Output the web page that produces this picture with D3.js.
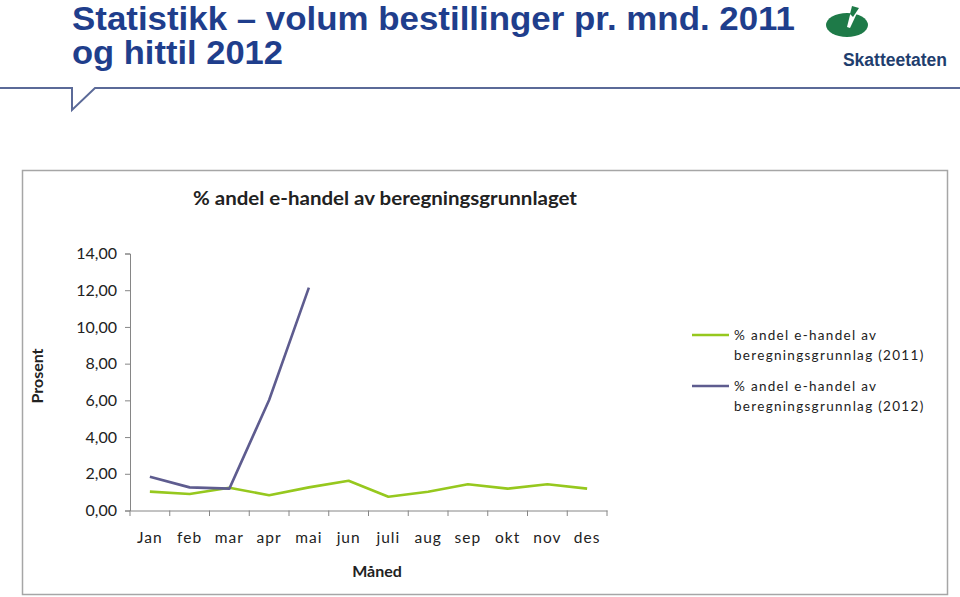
<!DOCTYPE html>
<html><head><meta charset="utf-8">
<script src="https://cdn.jsdelivr.net/npm/d3@7"></script>
<style>body{margin:0;background:#fff}svg{display:block}</style>
</head><body>
<svg id="c" width="960" height="597"></svg>
<script>
const months = ["Jan","feb","mar","apr","mai","jun","juli","aug","sep","okt","nov","des"];
const values2011 = [1.03,0.90,1.24,0.83,1.26,1.62,0.75,1.02,1.43,1.19,1.43,1.19];
const values2012 = [1.84,1.26,1.19,6.02,12.14];
const yTicks = [0,2,4,6,8,10,12,14];
const seriesNames = ["% andel e-handel av beregningsgrunnlag (2011)","% andel e-handel av beregningsgrunnlag (2012)"];
const seriesColors = ["#96c81e","#5e5c8f"];

const svg = d3.select("#c");
// Header
const titleFont = "'Liberation Sans',Arial,sans-serif";
svg.append("text").attr("x",72).attr("y",30).attr("font-family",titleFont).attr("font-weight","bold")
  .attr("font-size",33).attr("fill","#1f3e8c").attr("textLength",723).attr("lengthAdjust","spacingAndGlyphs")
  .text("Statistikk – volum bestillinger pr. mnd. 2011");
svg.append("text").attr("x",72).attr("y",64).attr("font-family",titleFont).attr("font-weight","bold")
  .attr("font-size",33).attr("fill","#1f3e8c").attr("textLength",211).attr("lengthAdjust","spacingAndGlyphs")
  .text("og hittil 2012");
svg.append("path").attr("d","M0,88H72V110L95,88H960").attr("fill","none").attr("stroke","#5b6a98").attr("stroke-width",2);
// Logo
svg.append("ellipse").attr("cx",847).attr("cy",25).attr("rx",21).attr("ry",12).attr("fill","#1e7a48");
svg.append("path").attr("d","M851,11 L858,11 L850,28 L847,27 Z").attr("fill","#fff");
svg.append("path").attr("d","M852,6 L859,8 L853,17 L850,14 Z").attr("fill","#1e7a48");
svg.append("text").attr("x",947).attr("y",66).attr("text-anchor","end").attr("font-family","'Liberation Sans Narrow','Liberation Sans',sans-serif").attr("font-weight","bold")
  .attr("font-size",17.5).attr("fill","#1f3e6e").text("Skatteetaten");

// Chart frame
svg.append("rect").attr("x",22.5).attr("y",170.5).attr("width",925).attr("height",424).attr("fill","#fff").attr("stroke","#a6a6a6").attr("stroke-width",1.5);

const font = "Lato,'Open Sans',sans-serif";
svg.append("text").attr("x",385).attr("y",205).attr("text-anchor","middle").attr("font-family",font).attr("font-weight","bold")
  .attr("font-size",19.5).attr("fill","#222").attr("textLength",384).attr("lengthAdjust","spacingAndGlyphs")
  .text("% andel e-handel av beregningsgrunnlaget");

const x = d3.scaleBand().domain(months).range([130,607]);
const y = d3.scaleLinear().domain([0,14]).range([510.5,253.5]);

const yAxis = d3.axisLeft(y).tickValues(yTicks).tickSize(5).tickFormat(d=>d3.format(".2f")(d).replace(".",","));
const gy = svg.append("g").attr("transform","translate(130,0)").call(yAxis);
gy.selectAll("path,line").attr("stroke","#868686");
gy.selectAll("text").attr("font-family",font).attr("font-size",16).attr("fill","#222").attr("x",-13);

const gx = svg.append("g").attr("transform","translate(0,510.5)").call(d3.axisBottom(x).tickSize(0).tickPadding(0).tickSizeOuter(0));
gx.select("path").attr("stroke","#868686");
gx.selectAll("text").attr("font-family",font).attr("font-size",15.5).attr("fill","#222").attr("dy",0).attr("y",32).attr("letter-spacing",1);
// category boundary ticks
const bounds = months.map(m=>x(m)).concat([x.range()[1]]);
svg.append("g").selectAll("line").data(bounds).join("line")
  .attr("x1",d=>d).attr("x2",d=>d).attr("y1",510.5).attr("y2",516).attr("stroke","#868686");

svg.append("text").attr("transform","translate(43,376) rotate(-90)").attr("text-anchor","middle").attr("font-family",font)
  .attr("font-weight","bold").attr("font-size",16).attr("fill","#222").text("Prosent");
svg.append("text").attr("x",377).attr("y",577).attr("text-anchor","middle").attr("font-family",font)
  .attr("font-weight","bold").attr("font-size",16).attr("fill","#222").text("Måned");

const line = d3.line().x((d,i)=>x(months[i])+x.bandwidth()/2).y(d=>y(d));
[values2011, values2012].forEach((vals,i)=>{
  svg.append("path").datum(vals).attr("d",line).attr("fill","none").attr("stroke",seriesColors[i])
    .attr("stroke-width",2.6).attr("stroke-linejoin","round");
});

// Legend
seriesNames.forEach((name,i)=>{
  const yy = 335 + i*51;
  svg.append("line").attr("x1",692).attr("x2",729).attr("y1",yy).attr("y2",yy).attr("stroke",seriesColors[i]).attr("stroke-width",2.6);
  const parts = [name.slice(0,19), name.slice(20)];
  parts.forEach((p,j)=>{
    svg.append("text").attr("x",734).attr("y",yy+5+j*20).attr("font-family",font).attr("font-size",13.5)
      .attr("letter-spacing",1.3).attr("fill","#222").text(p);
  });
});
</script>
</body></html>
